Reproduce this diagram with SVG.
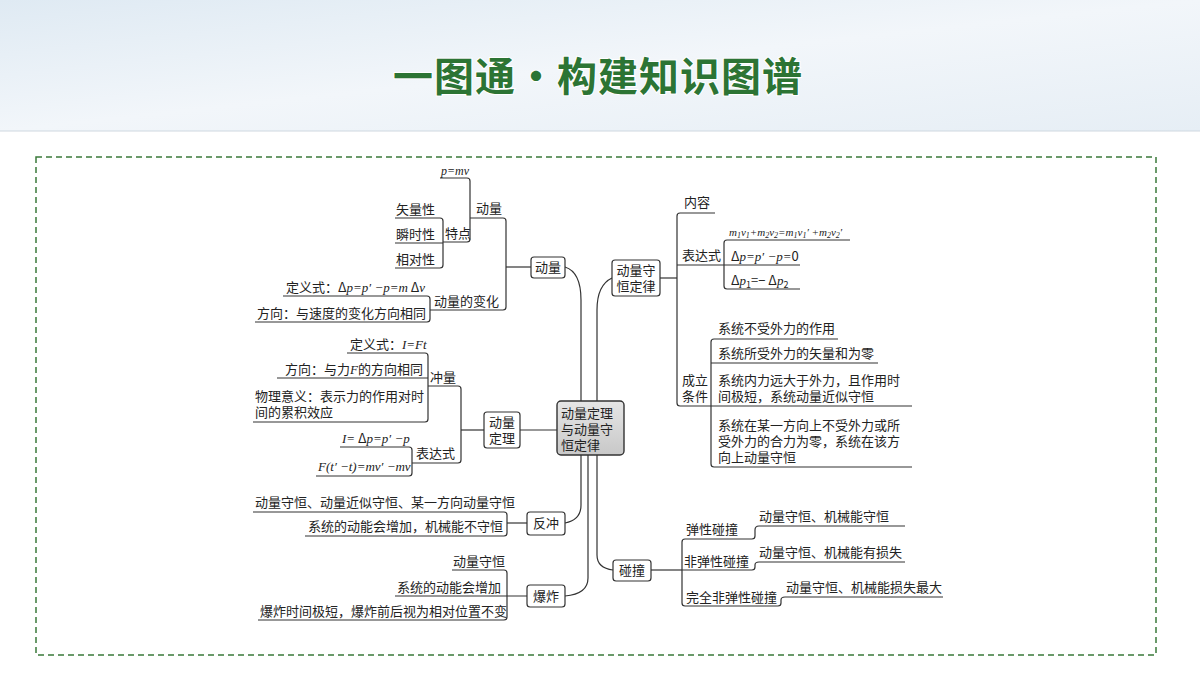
<svg xmlns="http://www.w3.org/2000/svg" width="1200" height="675" viewBox="0 0 1200 675">
<defs>
<linearGradient id="bg" x1="0" y1="0" x2="1" y2="1">
<stop offset="0" stop-color="#dfeaf3"/><stop offset="0.5" stop-color="#f2f6fa"/><stop offset="1" stop-color="#e6eef5"/>
</linearGradient>
<linearGradient id="nb" x1="0" y1="0" x2="0" y2="1"><stop offset="0" stop-color="#e6e6e6"/><stop offset="1" stop-color="#c8c8c8"/></linearGradient>
</defs>
<style>
text{font-family:"Noto Sans CJK SC","Liberation Serif",serif;font-size:13px;fill:#222}
.m{font-family:"Liberation Serif","Noto Sans CJK SC",serif;font-style:italic}
.box{fill:#fff;stroke:#333;stroke-width:1.2}
.ln{fill:none;stroke:#333;stroke-width:1.2}
.title{font-size:40px;font-weight:bold;fill:#2c7434;stroke:#fff;stroke-width:2;paint-order:stroke;letter-spacing:1px}
</style>
<rect width="1200" height="675" fill="#fff"/>
<rect width="1200" height="131" fill="url(#bg)"/>
<line x1="0" y1="131" x2="1200" y2="131" stroke="#cfd8e0"/>
<text class="title" x="598" y="91" text-anchor="middle">一图通·构建知识图谱</text>
<rect x="36" y="157" width="1120" height="498" fill="none" stroke="#3a7a3a" stroke-width="1.5" stroke-dasharray="6,4"/>

<g id="connectors">
<path class="ln" d="M565,267 Q581,272 581,300 V401"/>
<path class="ln" d="M612,278 Q597,285 597,310 V401"/>
<path class="ln" d="M520,430 H557"/>
<path class="ln" d="M581,455 V505 Q581,520 565,523"/>
<path class="ln" d="M588,455 V578 Q588,594 565,596"/>
<path class="ln" d="M597,455 V555 Q597,568 613,570"/>
<path class="ln" d="M531,267 H506"/>
<path class="ln" d="M470,218 H503 Q506,218 506,221 V307 Q506,310 503,310 H430"/>
<path class="ln" d="M440,178 H467 Q470,178 470,181 V239 Q470,242 467,242 H443"/>
<path class="ln" d="M395,218 H440 Q443,218 443,221 V265 Q443,268 440,268 H395"/>
<path class="ln" d="M395,243 H443"/>
<path class="ln" d="M283,296 H427 Q430,296 430,299 V319 Q430,322 427,322 H255"/>
<path class="ln" d="M484,430 H461"/>
<path class="ln" d="M428,386 H458 Q461,386 461,389 V460 Q461,463 458,463 H412"/>
<path class="ln" d="M347,353 H425 Q428,353 428,356 V419 Q428,422 425,422 H253"/>
<path class="ln" d="M277,378 H428"/>
<path class="ln" d="M340,447 H409 Q412,447 412,450 V473 Q412,476 409,476 H316"/>
<path class="ln" d="M527,523 H507"/>
<path class="ln" d="M253,512 H504 Q507,512 507,515 V533 Q507,536 504,536 H305"/>
<path class="ln" d="M527,596 H395"/>
<path class="ln" d="M452,570 H504 Q507,570 507,573 V617 Q507,620 504,620 H258"/>
<path class="ln" d="M660,278 H677"/>
<path class="ln" d="M715,213 H680 Q677,213 677,216 V403 Q677,406 680,406 H711"/>
<path class="ln" d="M677,265 H724"/>
<path class="ln" d="M850,240 H727 Q724,240 724,243 V286 Q724,289 727,289 H800"/>
<path class="ln" d="M724,265 H800"/>
<path class="ln" d="M838,339 H714 Q711,339 711,342 V464 Q711,467 714,467 H912"/>
<path class="ln" d="M711,363 H878"/>
<path class="ln" d="M711,406 H912"/>
<path class="ln" d="M651,570 H682"/>
<path class="ln" d="M752,539 H685 Q682,539 682,542 V603 Q682,606 685,606 H778"/>
<path class="ln" d="M682,570 H752"/>
<path class="ln" d="M752,539 Q755,539 755,536 V530 Q755,526 759,526 H905"/>
<path class="ln" d="M752,570 Q755,570 755,567 V565 Q755,562 759,562 H905"/>
<path class="ln" d="M778,606 Q781,606 781,603 V600 Q781,597 785,597 H943"/>
</g>

<g id="center"><rect x="557" y="401" width="67" height="54" rx="4" fill="url(#nb)" stroke="#333" stroke-width="1.4"/>
<text x="561" y="418">动量定理</text>
<text x="561" y="434">与动量守</text>
<text x="561" y="450">恒定律</text></g>

<g id="n-dongliang"><rect class="box" x="531" y="257" width="34" height="21" rx="3"/><text x="548" y="272" text-anchor="middle">动量</text></g>
<g id="n-dlding"><rect class="box" x="484" y="412" width="36" height="36" rx="3"/><text x="502" y="427" text-anchor="middle">动量</text><text x="502" y="443" text-anchor="middle">定理</text></g>
<g id="n-fanchong"><rect class="box" x="527" y="512" width="38" height="23" rx="3"/><text x="546" y="528" text-anchor="middle">反冲</text></g>
<g id="n-baozha"><rect class="box" x="527" y="585" width="38" height="22" rx="3"/><text x="546" y="601" text-anchor="middle">爆炸</text></g>
<g id="n-shouheng"><rect class="box" x="612" y="260" width="48" height="36" rx="3"/><text x="636" y="275" text-anchor="middle">动量守</text><text x="636" y="291" text-anchor="middle">恒定律</text></g>
<g id="n-pengzhuang"><rect class="box" x="613" y="560" width="38" height="21" rx="3"/><text x="632" y="575" text-anchor="middle">碰撞</text></g>

<g id="labels-left">
<text x="441" y="175" class="m" style="font-size:12px">p=mv</text>
<text x="476" y="213">动量</text>
<text x="445" y="238">特点</text>
<text x="396" y="214">矢量性</text>
<text x="396" y="239">瞬时性</text>
<text x="396" y="264">相对性</text>
<text x="434" y="306">动量的变化</text>
<text x="286" y="292">定义式：Δ<tspan class="m">p=p′ −p=m</tspan> Δ<tspan class="m">v</tspan></text>
<text x="257" y="318">方向：与速度的变化方向相同</text>
<text x="430" y="382">冲量</text>
<text x="350" y="349">定义式：<tspan class="m">I=Ft</tspan></text>
<text x="285" y="374">方向：与力<tspan class="m">F</tspan>的方向相同</text>
<text x="255" y="401">物理意义：表示力的作用对时</text>
<text x="255" y="417">间的累积效应</text>
<text x="416" y="458">表达式</text>
<text x="342" y="443"><tspan class="m">I=</tspan> Δ<tspan class="m">p=p′ −p</tspan></text>
<text x="318" y="471" class="m">F(t′ −t)=mv′ −mv</text>
<text x="255" y="507">动量守恒、动量近似守恒、某一方向动量守恒</text>
<text x="308" y="531">系统的动能会增加，机械能不守恒</text>
<text x="453" y="566">动量守恒</text>
<text x="397" y="592">系统的动能会增加</text>
<text x="260" y="616">爆炸时间极短，爆炸前后视为相对位置不变</text>
</g>
<g id="labels-right">
<text x="684" y="207">内容</text>
<text x="682" y="260">表达式</text>
<text x="729" y="236" class="m" style="font-size:11px">m<tspan style="font-size:8px" dy="2">1</tspan><tspan dy="-2">v</tspan><tspan style="font-size:8px" dy="2">1</tspan><tspan dy="-2">+m</tspan><tspan style="font-size:8px" dy="2">2</tspan><tspan dy="-2">v</tspan><tspan style="font-size:8px" dy="2">2</tspan><tspan dy="-2">=m</tspan><tspan style="font-size:8px" dy="2">1</tspan><tspan dy="-2">v</tspan><tspan style="font-size:8px" dy="2">1</tspan><tspan dy="-2">′ +m</tspan><tspan style="font-size:8px" dy="2">2</tspan><tspan dy="-2">v</tspan><tspan style="font-size:8px" dy="2">2</tspan><tspan dy="-2">′</tspan></text>
<text x="731" y="261">Δ<tspan class="m">p=p′ −p=</tspan>0</text>
<text x="731" y="285">Δ<tspan class="m">p</tspan><tspan style="font-size:9px" dy="3">1</tspan><tspan dy="-3">=− Δ</tspan><tspan class="m">p</tspan><tspan style="font-size:9px" dy="3">2</tspan></text>
<text x="682" y="385">成立</text>
<text x="682" y="401">条件</text>
<text x="718" y="333">系统不受外力的作用</text>
<text x="718" y="358">系统所受外力的矢量和为零</text>
<text x="718" y="385">系统内力远大于外力，且作用时</text>
<text x="718" y="401">间极短，系统动量近似守恒</text>
<text x="718" y="430">系统在某一方向上不受外力或所</text>
<text x="718" y="446">受外力的合力为零，系统在该方</text>
<text x="718" y="462">向上动量守恒</text>
<text x="686" y="534">弹性碰撞</text>
<text x="684" y="566">非弹性碰撞</text>
<text x="686" y="602">完全非弹性碰撞</text>
<text x="759" y="521">动量守恒、机械能守恒</text>
<text x="759" y="557">动量守恒、机械能有损失</text>
<text x="786" y="592">动量守恒、机械能损失最大</text>
</g>
</svg>
